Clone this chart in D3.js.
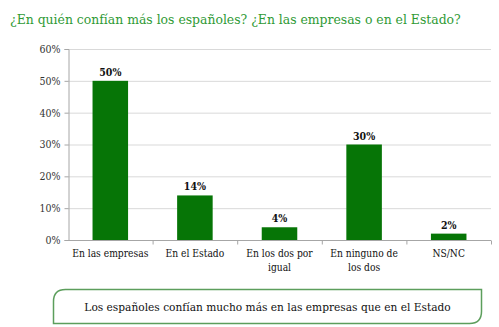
<!DOCTYPE html>
<html>
<head>
<meta charset="utf-8">
<script src="https://cdn.jsdelivr.net/npm/d3@7"></script>
<style>
  body { margin: 0; background: #fff; }
</style>
</head>
<body>
<div id="chart"></div>
<script>
const width = 499;
const height = 327;

const categories = ["En las empresas", "En el Estado", "En los dos por igual", "En ninguno de los dos", "NS/NC"];
const labelLines = [["En las empresas"], ["En el Estado"], ["En los dos por", "igual"], ["En ninguno de", "los dos"], ["NS/NC"]];
const values = [50, 14, 4, 30, 2];
const yTicks = [0, 10, 20, 30, 40, 50, 60];

const margin = ({top: 49, right: 8, bottom: 87, left: 68});

const svg = d3.select("#chart").append("svg")
  .attr("width", width)
  .attr("height", height)
  .style("font-family", "'DejaVu Serif Condensed'");

svg.append("text")
  .attr("x", 10)
  .attr("y", 24)
  .attr("fill", "#2f9a35")
  .style("font-size", "13.8px")
  .text("¿En quién confían más los españoles? ¿En las empresas o en el Estado?");

const x = d3.scaleBand()
  .domain(categories)
  .range([margin.left, width - margin.right])
  .paddingInner(0.58)
  .paddingOuter(0.29);

const y = d3.scaleLinear()
  .domain([0, 60])
  .range([height - margin.bottom, margin.top]);

// gridlines
svg.append("g")
  .selectAll("line")
  .data(yTicks.slice(1))
  .join("line")
    .attr("x1", margin.left)
    .attr("x2", width - margin.right)
    .attr("y1", d => y(d) + 0.5)
    .attr("y2", d => y(d) + 0.5)
    .attr("stroke", "#d9d9d9");

const yAxis = g => g
  .attr("transform", `translate(${margin.left + 0.5},0)`)
  .call(d3.axisLeft(y).tickValues(yTicks).tickFormat(d => d + "%").tickSize(4))
  .attr("font-family", null)
  .call(g => g.select(".domain").attr("stroke", "#a6a6a6"))
  .call(g => g.selectAll(".tick line").attr("stroke", "#a6a6a6"))
  .call(g => g.selectAll("text")
      .attr("fill", "#333")
      .attr("x", -8)
      .style("font-size", "10.5px"));

svg.append("g").call(yAxis);

// baseline with category separators
const xb = y(0) + 0.5;
svg.append("line")
  .attr("x1", margin.left)
  .attr("x2", width - margin.right)
  .attr("y1", xb)
  .attr("y2", xb)
  .attr("stroke", "#a6a6a6");

const step = x.step();
svg.append("g")
  .selectAll("line")
  .data(categories)
  .join("line")
    .attr("x1", d => x(d) + x.bandwidth() + step * x.paddingInner() / 2 + 0.5)
    .attr("x2", d => x(d) + x.bandwidth() + step * x.paddingInner() / 2 + 0.5)
    .attr("y1", xb)
    .attr("y2", xb + 4)
    .attr("stroke", "#a6a6a6");

svg.append("g")
  .selectAll("rect")
  .data(values)
  .join("rect")
    .attr("x", (d, i) => x(categories[i]))
    .attr("y", d => y(d))
    .attr("width", x.bandwidth())
    .attr("height", d => y(0) - y(d))
    .attr("fill", "#067506");

svg.append("g")
  .selectAll("text")
  .data(values)
  .join("text")
    .attr("x", (d, i) => x(categories[i]) + x.bandwidth() / 2)
    .attr("y", d => y(d) - 5)
    .attr("text-anchor", "middle")
    .attr("fill", "#111")
    .style("font-size", "10.5px")
    .style("font-weight", "bold")
    .text(d => d + "%");

// category labels
const cat = svg.append("g")
  .selectAll("text")
  .data(categories)
  .join("text")
    .attr("x", d => x(d) + x.bandwidth() / 2)
    .attr("y", y(0) + 17)
    .attr("text-anchor", "middle")
    .attr("fill", "#111")
    .style("font-size", "10.2px");

cat.selectAll("tspan")
  .data((d, i) => labelLines[i])
  .join("tspan")
    .attr("x", function() { return this.parentNode.getAttribute("x"); })
    .attr("dy", (d, i) => i === 0 ? 0 : 13.5)
    .text(d => d);

// footnote box: rounded top-left and bottom-right corners
const bx0 = 53.5, bx1 = 481.5, by0 = 289.5, by1 = 323.5, r = 12;
const box = d3.path();
box.moveTo(bx0 + r, by0);
box.lineTo(bx1, by0);
box.lineTo(bx1, by1 - r);
box.quadraticCurveTo(bx1, by1, bx1 - r, by1);
box.lineTo(bx0, by1);
box.lineTo(bx0, by0 + r);
box.quadraticCurveTo(bx0, by0, bx0 + r, by0);
box.closePath();

svg.append("path")
  .attr("d", box.toString())
  .attr("fill", "#fff")
  .attr("stroke", "#5c9e5c")
  .attr("stroke-width", 1.5);

svg.append("text")
  .attr("x", (bx0 + bx1) / 2)
  .attr("y", 310.5)
  .attr("text-anchor", "middle")
  .attr("fill", "#111")
  .style("font-size", "11.8px")
  .text("Los españoles confían mucho más en las empresas que en el Estado");
</script>
</body>
</html>
